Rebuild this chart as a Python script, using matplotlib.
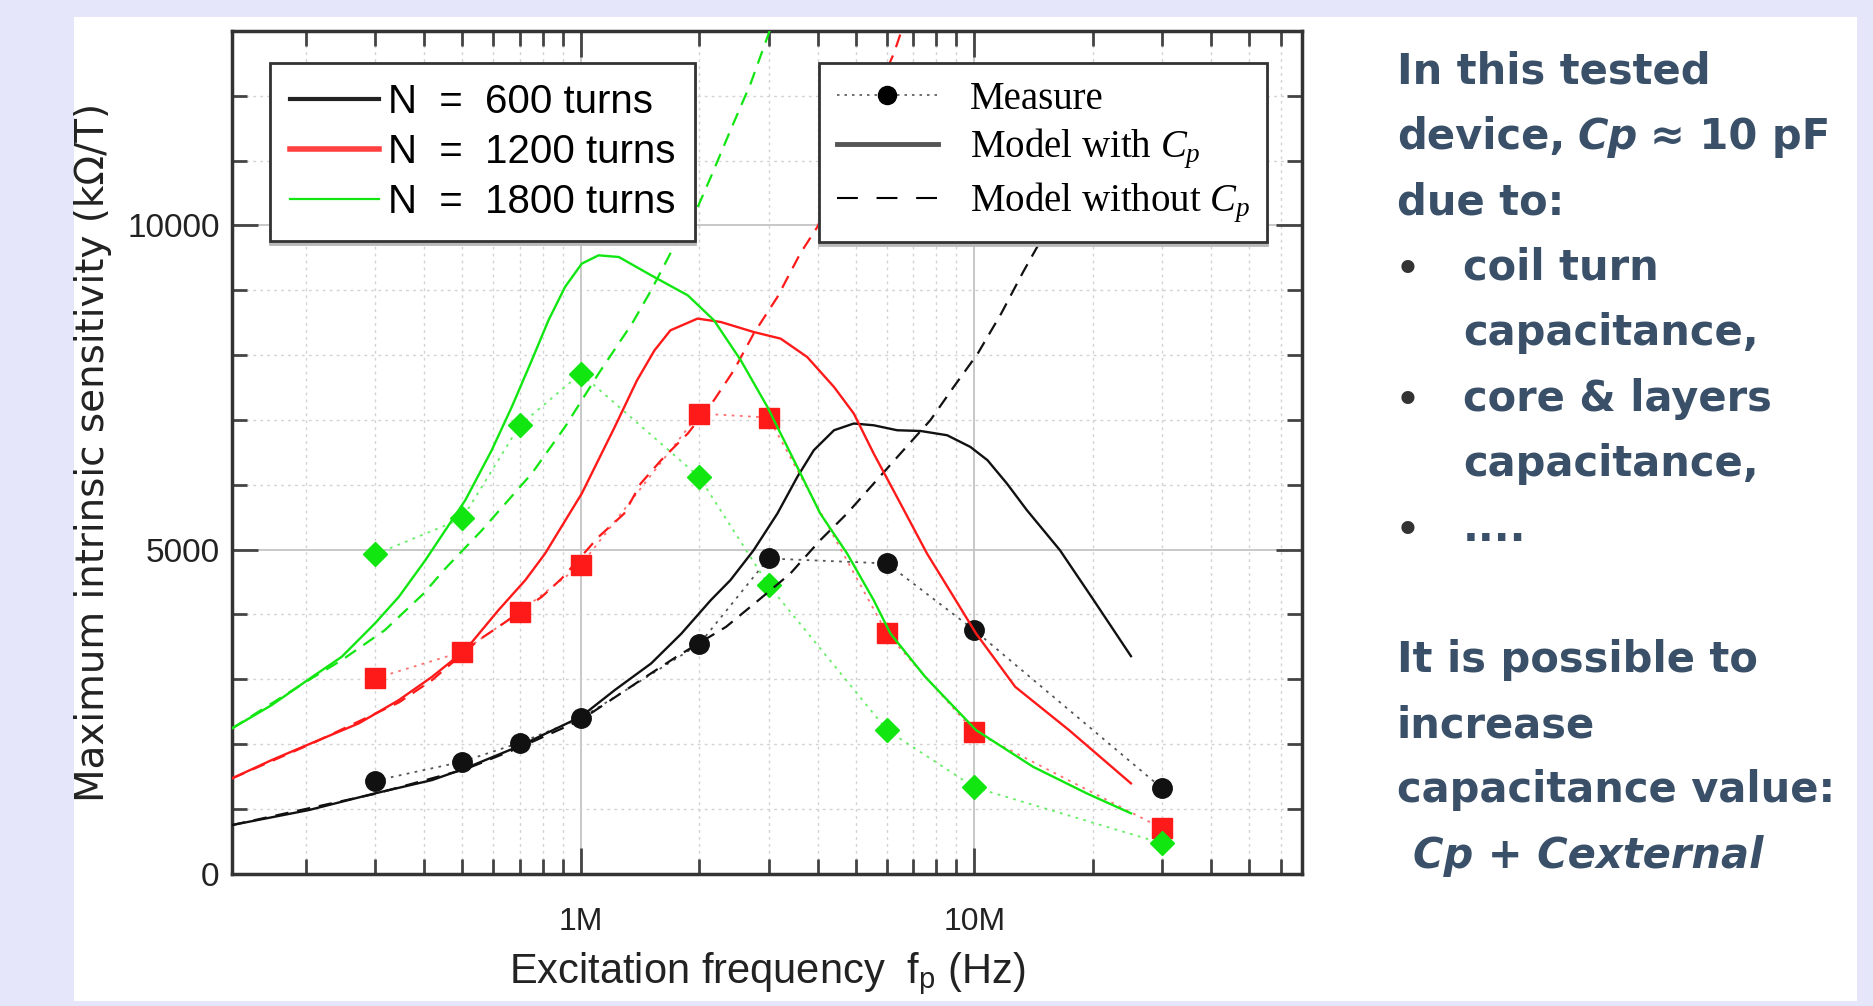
"""Sensitivity vs excitation frequency slide: measures and models for three coils."""

import matplotlib.pyplot as plt
from matplotlib.lines import Line2D
from matplotlib.patches import Rectangle
from matplotlib.ticker import (
    FixedLocator,
    FuncFormatter,
    LogLocator,
    MultipleLocator,
    NullFormatter,
)

FIG_W, FIG_H = 1873, 1006

# ---------------------------------------------------------------- data
# measured points (Hz, kOhm/T)
meas_freq = [3e5, 5e5, 7e5, 1e6, 2e6, 3e6, 6e6, 1e7, 3e7]
meas_600 = [1433, 1726, 2019, 2395, 3540, 4862, 4785, 3756, 1315]
meas_1200 = [3011, 3422, 4039, 4759, 7098, 7036, 3705, 2188, 698]
meas_1800 = [4924, 5479, 6917, 7715, 6120, 4450, 2214, 1331, 467]

# model with Cp (solid curves)
cp_600_freq = [1.30e5, 2.04e5, 3.0e5, 4.19e5, 5.09e5, 7.08e5, 1.0e6, 1.22e6,
               1.51e6, 1.80e6, 2.14e6, 2.40e6, 2.75e6, 3.16e6, 3.55e6, 3.91e6,
               4.40e6, 4.94e6, 5.55e6, 6.37e6, 7.30e6, 8.53e6, 9.77e6, 1.08e7,
               1.21e7, 1.36e7, 1.65e7, 2.01e7, 2.50e7]
cp_600 = [749, 981, 1238, 1443, 1624, 1983, 2419, 2831, 3243, 3700, 4219,
          4527, 4990, 5556, 6120, 6532, 6840, 6944, 6917, 6840, 6829, 6763,
          6583, 6378, 6018, 5607, 4990, 4219, 3355]

cp_1200_freq = [1.30e5, 1.64e5, 2.08e5, 2.73e5, 3.45e5, 4.19e5, 5.09e5,
                6.18e5, 7.23e5, 8.12e5, 1.006e6, 1.22e6, 1.39e6, 1.54e6,
                1.69e6, 1.98e6, 2.27e6, 2.75e6, 3.22e6, 3.76e6, 4.40e6,
                4.94e6, 5.55e6, 6.49e6, 7.58e6, 8.86e6, 1.01e7, 1.27e7,
                1.74e7, 2.50e7]
cp_1200 = [1469, 1752, 2018, 2318, 2677, 3036, 3448, 4065, 4527, 4939, 5864,
           6891, 7611, 8074, 8382, 8563, 8510, 8356, 8254, 7971, 7508, 7098,
           6481, 5710, 4939, 4270, 3705, 2882, 2214, 1392]

cp_1800_freq = [1.30e5, 1.64e5, 2.08e5, 2.47e5, 3.0e5, 3.45e5, 4.03e5,
                5.09e5, 5.94e5, 6.68e5, 7.51e5, 8.28e5, 9.12e5, 1.006e6,
                1.11e6, 1.25e6, 1.51e6, 1.87e6, 2.18e6, 2.55e6, 2.98e6,
                3.48e6, 4.06e6, 4.75e6, 5.55e6, 6.12e6, 7.5e6, 1.01e7, 1.41e7,
                1.93e7, 2.50e7]
cp_1800 = [2240, 2600, 3036, 3345, 3860, 4270, 4836, 5761, 6532, 7200, 7920,
           8537, 9050, 9411, 9539, 9513, 9230, 8922, 8537, 7920, 7200, 6378,
           5556, 4939, 4219, 3705, 3036, 2214, 1648, 1238, 930]

# model without Cp (dashed curves)
nocp_600_freq = [1.30e5, 3.0e5, 5.09e5, 7.08e5, 1.0e6, 1.42e6, 1.75e6,
                 2.34e6, 2.83e6, 3.41e6, 4.06e6, 4.75e6, 5.55e6, 6.49e6,
                 7.73e6, 8.86e6, 1.02e7, 1.17e7, 1.33e7, 1.46e7, 1.65e7]
nocp_600 = [749, 1230, 1610, 1960, 2369, 2985, 3345, 3807, 4219, 4631, 5144,
            5556, 6018, 6481, 6994, 7508, 8023, 8640, 9281, 9719, 10387]

nocp_1200_freq = [1.30e5, 2.08e5, 3.45e5, 4.19e5, 5.50e5, 6.18e5, 7.96e5,
                  8.95e5, 1.11e6, 1.29e6, 1.42e6, 1.60e6, 1.87e6, 2.18e6,
                  2.45e6, 2.75e6, 3.16e6, 3.61e6, 3.99e6, 6.24e6, 6.7e6]
nocp_1200 = [1469, 2010, 2640, 2985, 3602, 3807, 4270, 4554, 5195, 5556,
             6018, 6378, 6789, 7303, 7766, 8331, 8896, 9565, 9975, 12649,
             13200]

nocp_1800_freq = [1.30e5, 2.08e5, 2.47e5, 3.18e5, 3.99e5, 4.53e5, 5.61e5,
                  7.51e5, 9.12e5, 1.11e6, 1.35e6, 1.51e6, 1.69e6, 1.90e6,
                  2.14e6, 2.40e6, 2.70e6, 2.98e6, 3.1e6]
nocp_1800 = [2240, 3020, 3293, 3757, 4322, 4708, 5298, 6173, 6891, 7715,
             8486, 9000, 9570, 10028, 10746, 11466, 12186, 12905, 13200]

turns_labels = ["N  =  600 turns", "N  =  1200 turns", "N  =  1800 turns"]
style_labels = ["Measure", "Model with $C_p$", "Model without $C_p$"]
x_tick_values = [1e6, 1e7]
y_tick_values = [0, 5000, 10000]

note_lines = [
    # (line index, indent, bullet, [(text, italic), ...])
    (0, 0, False, [("In this tested", False)]),
    (1, 0, False, [("device,", False), ("Cp", True), ("≈ 10 pF", False)]),
    (2, 0, False, [("due to:", False)]),
    (3, 1, True, [("coil turn", False)]),
    (4, 1, False, [("capacitance,", False)]),
    (5, 1, True, [("core & layers", False)]),
    (6, 1, False, [("capacitance,", False)]),
    (7, 1, True, [("....", False)]),
    (9, 0, False, [("It is possible to", False)]),
    (10, 0, False, [("increase", False)]),
    (11, 0, False, [("capacitance value:", False)]),
    (12, 2, False, [("Cp + Cexternal", True)]),
]

# ---------------------------------------------------------------- fonts
SANS = "Liberation Sans"
SERIF = "Liberation Serif"

plt.rcParams["font.family"] = [SANS, "DejaVu Sans"]
plt.rcParams["mathtext.fontset"] = "custom"
plt.rcParams["mathtext.rm"] = SANS
plt.rcParams["mathtext.it"] = SERIF + ":italic"

BLACK, RED, GREEN = "#111111", "#ff1a1a", "#11e611"
NOTE_COLOR = "#3a5068"

# ---------------------------------------------------------------- figure
fig = plt.figure(figsize=(FIG_W / 100, FIG_H / 100), dpi=100, facecolor="#e6e6fa")
fig.add_artist(Rectangle((74 / FIG_W, 1 - 1001 / FIG_H), (1857 - 74) / FIG_W,
                         (1001 - 17) / FIG_H, transform=fig.transFigure,
                         facecolor="white", edgecolor="none", zorder=-1))

ax = fig.add_axes([232 / FIG_W, 1 - 873.6 / FIG_H, (1302 - 232) / FIG_W,
                   (873.6 - 31) / FIG_H])

series = [
    (BLACK, "#555555", "o", 14, meas_600, cp_600_freq, cp_600, nocp_600_freq, nocp_600),
    (RED, "#ff7070", "s", 15, meas_1200, cp_1200_freq, cp_1200, nocp_1200_freq, nocp_1200),
    (GREEN, "#66ee66", "D", 12, meas_1800, cp_1800_freq, cp_1800, nocp_1800_freq, nocp_1800),
]

for color, dot_color, marker, size, meas, f_cp, v_cp, f_nocp, v_nocp in series:
    ax.plot(meas_freq, meas, color=dot_color, linewidth=1.3,
            linestyle=(0, (1.5, 3)), zorder=2)
    ax.plot(meas_freq, meas, linestyle="none", marker=marker, markersize=size,
            markerfacecolor=color, markeredgecolor=color, zorder=3)
    ax.plot(f_nocp, v_nocp, color=color, linewidth=1.6, dashes=(6, 4), zorder=4)
    ax.plot(f_cp, v_cp, color=color, linewidth=1.7, zorder=5)

ax.set_xscale("log")
ax.set_xlim(1.3e5, 6.8e7)
ax.set_ylim(0, 13000)

ax.xaxis.set_major_locator(FixedLocator(x_tick_values))
ax.xaxis.set_major_formatter(FuncFormatter(lambda v, _: f"{v / 1e6:.0f}M"))
ax.xaxis.set_minor_locator(LogLocator(base=10, subs=range(2, 10), numticks=20))
ax.xaxis.set_minor_formatter(NullFormatter())
ax.yaxis.set_major_locator(FixedLocator(y_tick_values))
ax.yaxis.set_minor_locator(MultipleLocator(1000))

ax.tick_params(which="both", direction="in", top=True, right=True,
               color="#444444", width=2, labelcolor="#222222")
ax.tick_params(which="major", length=19)
ax.tick_params(which="minor", length=11)
ax.tick_params(axis="x", which="major", pad=24, labelsize=23)
ax.tick_params(axis="y", which="major", pad=9, labelsize=24)

ax.grid(which="major", color="#c4c4c4", linewidth=1.3)
ax.grid(which="minor", color="#d2d2d2", linewidth=1.0, linestyle=(0, (2, 3)))
ax.set_axisbelow(True)
for spine in ax.spines.values():
    spine.set_color("#333333")
    spine.set_linewidth(2.5)

ax.set_xlabel(r"Excitation frequency  $\mathrm{f}_\mathrm{p}$ (Hz)",
              fontsize=30, color="#222222", va="center")
ax.xaxis.set_label_coords(0.5, (873.6 - 974) / (873.6 - 31))
ax.set_ylabel("Maximum intrinsic sensitivity (kΩ/T)", family="DejaVu Sans",
              fontsize=28, color="#222222", va="center")
ax.yaxis.set_label_coords((93 - 232) / (1302 - 232), 0.5)

# ---------------------------------------------------------------- legends
shadow = {"ox": 0, "oy": -2, "color": "#b8b8b8", "alpha": 1}
turns_handles = [
    Line2D([], [], color="#222222", linewidth=3),
    Line2D([], [], color="#ff4040", linewidth=4),
    Line2D([], [], color="#11e611", linewidth=1.6),
]
leg1 = ax.legend(turns_handles, turns_labels, loc="upper left",
                 bbox_to_anchor=(0.0355, 0.962), prop={"family": SANS, "size": 29},
                 handlelength=2.2, handletextpad=0.22, borderpad=0.5,
                 labelspacing=0.30, borderaxespad=0, fancybox=False,
                 framealpha=1, edgecolor="#333333", shadow=shadow)
leg1.get_frame().set_linewidth(2)
leg1.set_zorder(10)
ax.add_artist(leg1)

style_handles = [
    Line2D([], [], color="#555555", linewidth=1.2, linestyle=(0, (1.5, 3)),
           marker="o", markersize=13, markerfacecolor="black",
           markeredgecolor="black"),
    Line2D([], [], color="#555555", linewidth=3.5),
    Line2D([], [], color="black", linewidth=1.5, dashes=(10, 9)),
]
leg2 = ax.legend(style_handles, style_labels, loc="upper left",
                 bbox_to_anchor=(0.5486, 0.962), prop={"family": SERIF, "size": 28},
                 handlelength=2.6, handletextpad=0.82, borderpad=0.45,
                 labelspacing=0.24, borderaxespad=0, fancybox=False,
                 framealpha=1, edgecolor="#333333", shadow=shadow)
leg2.get_frame().set_linewidth(2)
leg2.set_zorder(10)

# ---------------------------------------------------------------- side notes
indent_px = [1397, 1463, 1413]
for line_no, indent, bullet, pieces in note_lines:
    bottom = 1 - (93 + 65.3 * line_no) / FIG_H
    if bullet:
        fig.text(1396 / FIG_W, bottom, "•", fontsize=27, fontweight="bold",
                 family="DejaVu Sans", color="#333333", va="bottom")
    prev = None
    for text, italic in pieces:
        style = "italic" if italic else "normal"
        kwargs = dict(fontsize=30, fontweight="bold", family="DejaVu Sans",
                      style=style, color=NOTE_COLOR, va="bottom")
        if prev is None:
            prev = fig.text(indent_px[indent] / FIG_W, bottom, text, **kwargs)
        else:
            prev = ax.annotate(text, xy=(1, 0), xycoords=prev, xytext=(9, 0),
                               textcoords="offset points", annotation_clip=False,
                               **kwargs)

fig.savefig("out.png", dpi=100, facecolor=fig.get_facecolor())
